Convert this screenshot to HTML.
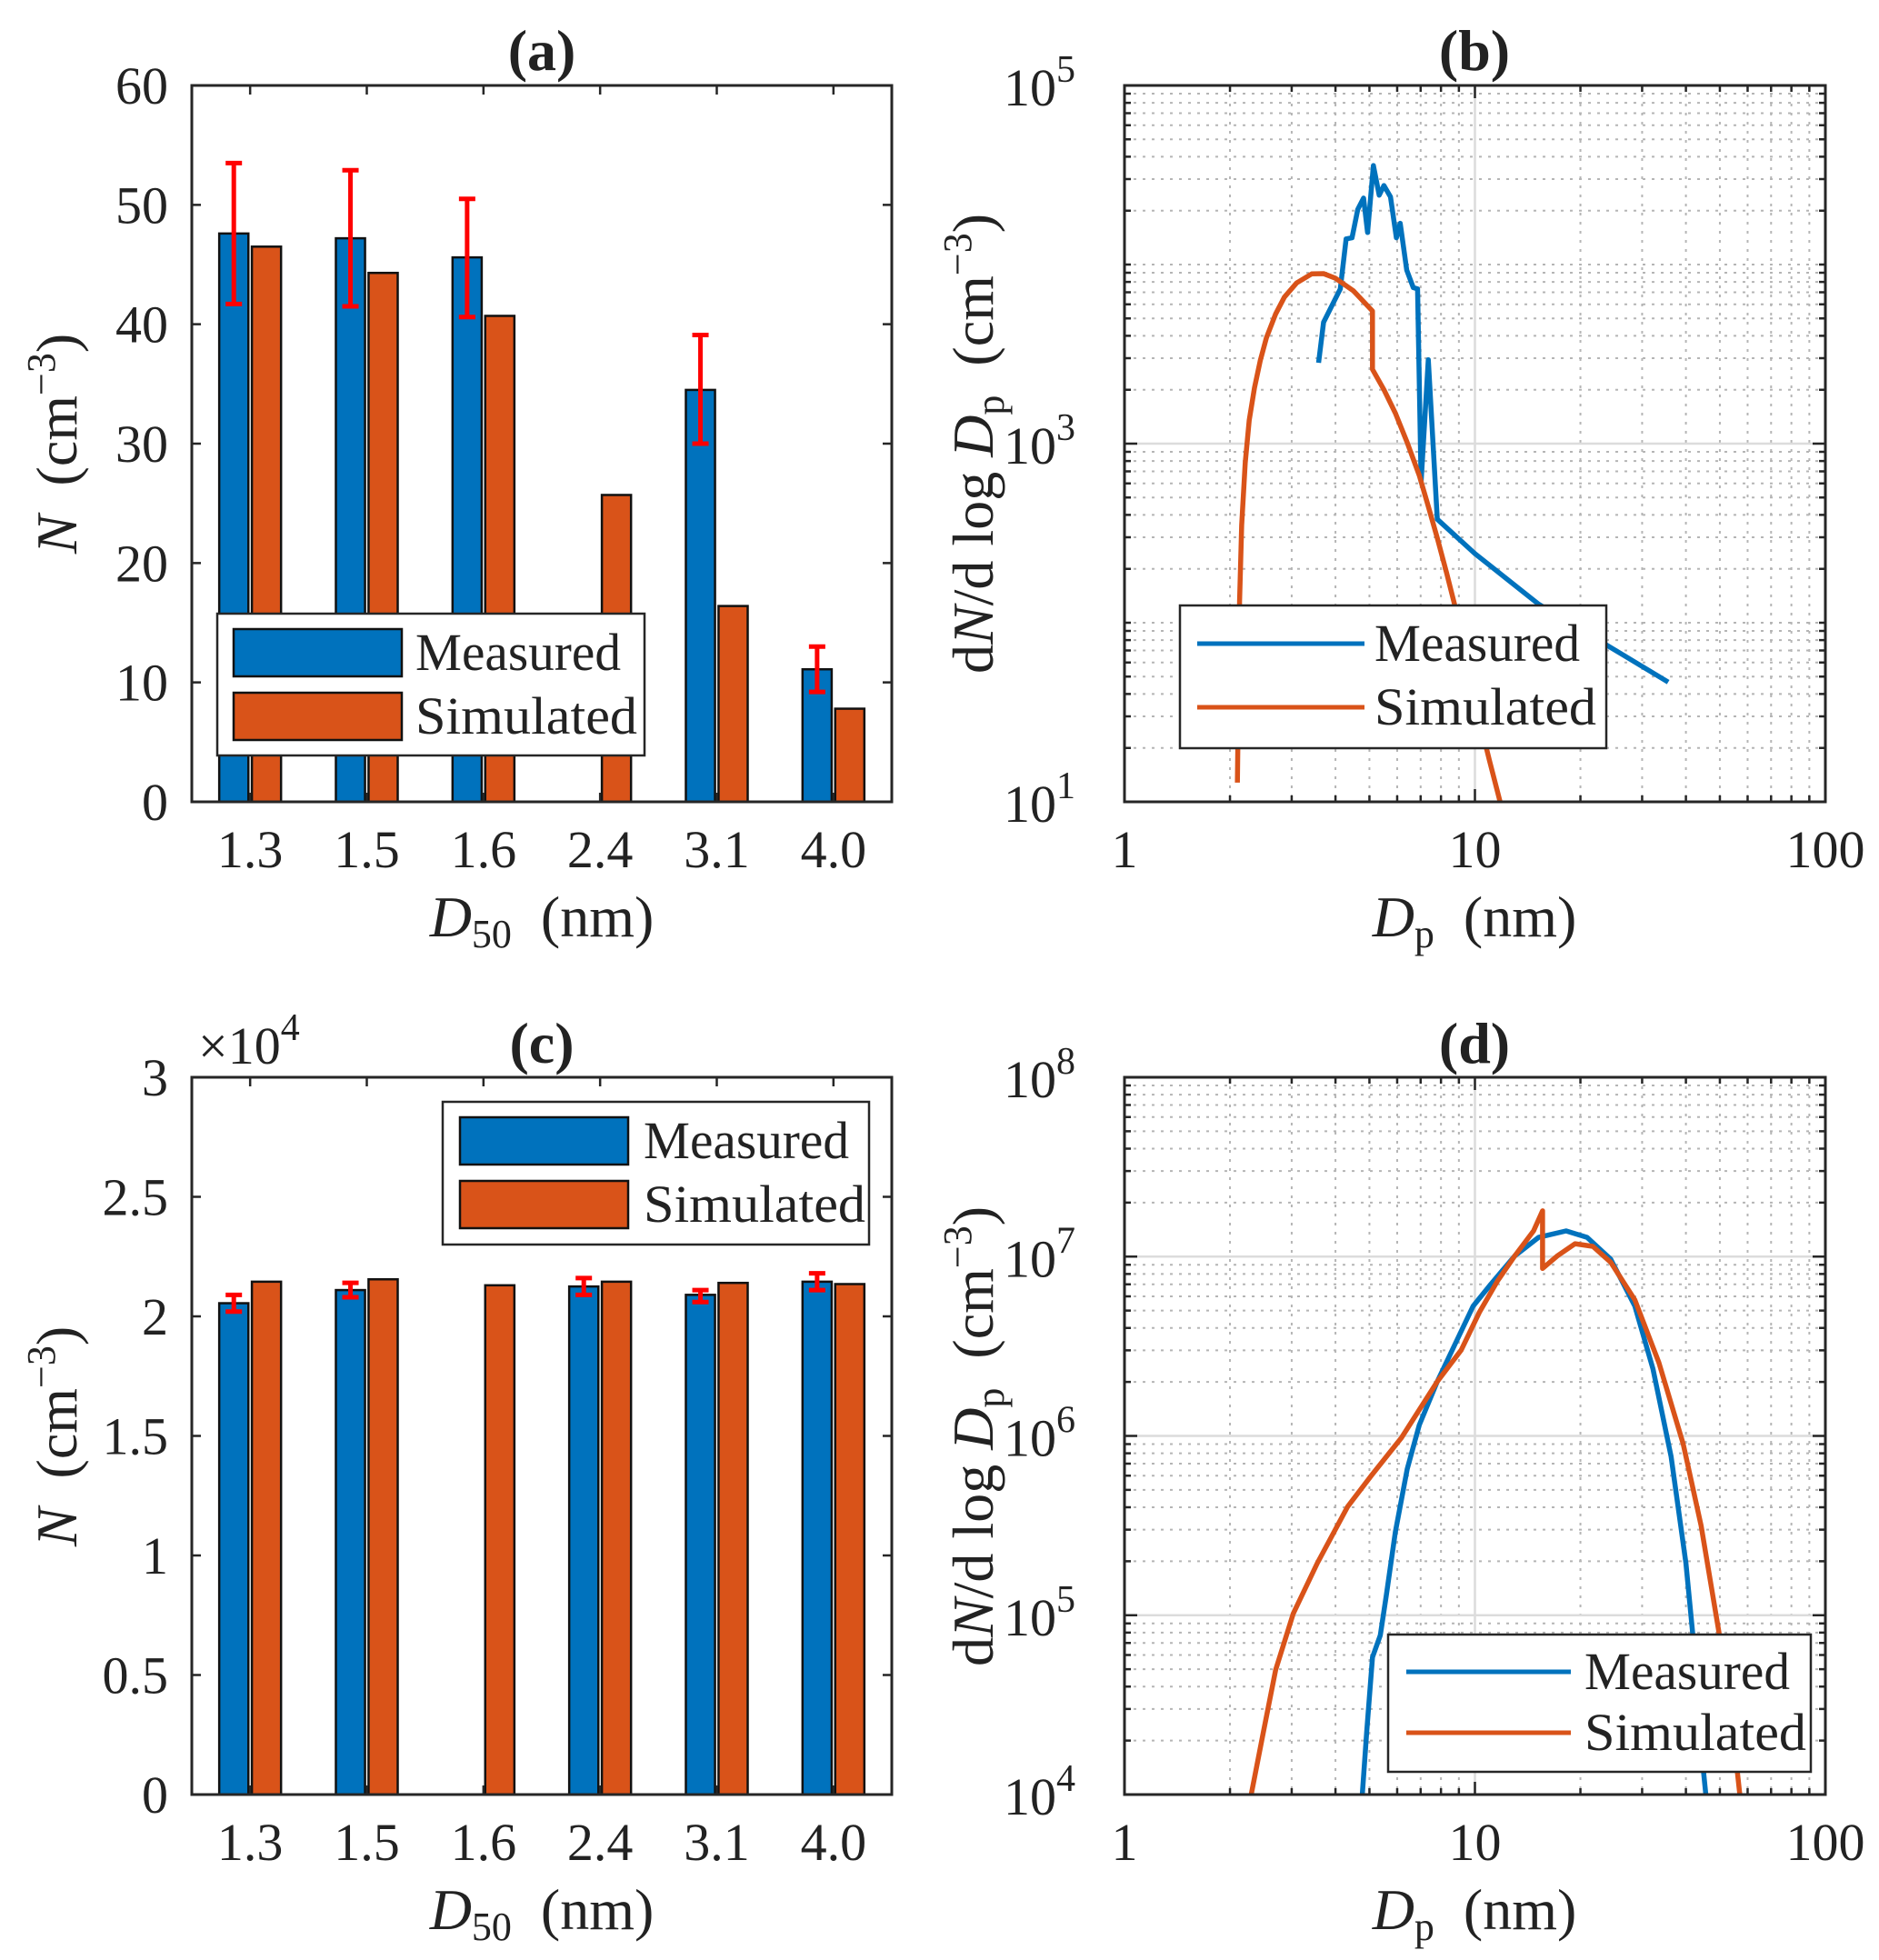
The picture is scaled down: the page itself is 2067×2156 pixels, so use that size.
<!DOCTYPE html>
<html><head><meta charset="utf-8"><style>
html,body{margin:0;padding:0;background:#fff}
svg{display:block}
text{font-family:"Liberation Serif",serif;fill:#222}
</style></head><body>
<svg id="fig" width="2067" height="2156" viewBox="0 0 2067 2156" xmlns="http://www.w3.org/2000/svg">
<defs>
<clipPath id="clipB"><rect x="1237" y="94" width="771" height="788"/></clipPath>
<clipPath id="clipD"><rect x="1237" y="1185" width="771" height="789"/></clipPath>
</defs>
</svg>
<script>
// ---------- data ----------
const categories = ["1.3","1.5","1.6","2.4","3.1","4.0"];
const aMeasured = [47.6, 47.2, 45.6, 0, 34.5, 11.1];
const aSimulated = [46.5, 44.3, 40.7, 25.7, 16.4, 7.8];
const aErrLow = [41.7, 41.5, 40.6, null, 30.0, 9.2];
const aErrHigh = [53.5, 52.9, 50.5, null, 39.1, 13.0];
const aYTicks = [0,10,20,30,40,50,60];
const cMeasured = [2.055, 2.11, 0, 2.125, 2.09, 2.145];
const cSimulated = [2.145, 2.155, 2.13, 2.145, 2.14, 2.135];
const cErrLow = [2.02, 2.08, null, 2.09, 2.06, 2.11];
const cErrHigh = [2.09, 2.14, null, 2.16, 2.11, 2.18];
const cYTicks = ["0","0.5","1","1.5","2","2.5","3"];
const cYTickVals = [0,0.5,1,1.5,2,2.5,3];
const bMeasDp = [3.58,3.70,4.13,4.29,4.46,4.63,4.81,4.94,5.13,5.33,5.50,5.74,5.97,6.12,6.39,6.67,6.86,7.02,7.36,7.81,10.0,15.2,35.6];
const bMeasN = [2826,4760,7310,13900,14100,20300,23500,15100,35700,24400,27600,23900,14100,17000,9300,7430,7310,612,2940,378,243,127,46.6];
const bSimDp = [2.10,2.12,2.13,2.16,2.21,2.27,2.35,2.44,2.54,2.70,2.86,3.10,3.42,3.70,4.00,4.50,5.10,5.10,5.50,5.93,6.40,6.94,7.35,7.81,8.30,8.79,9.50,10.3,11.0,11.8];
const bSimN = [12.8,60,132,350,780,1350,2050,2900,3900,5300,6580,7900,8870,8900,8380,7130,5500,2600,2000,1480,1020,664,450,297,190,122,60,28.7,17,10];
const dMeasDp = [4.77,4.91,5.10,5.37,5.59,5.93,6.41,6.94,7.81,8.79,9.89,11.1,13.0,15.2,18.2,20.9,24.4,28.6,32.2,36.3,40.0,42.8,44.5,45.6];
const dMeasN = [1e4,2.22e4,5.83e4,7.73e4,1.30e5,2.92e5,6.53e5,1.15e6,2.01e6,3.27e6,5.30e6,7.02e6,1.01e7,1.28e7,1.39e7,1.28e7,9.68e6,5.30e6,2.37e6,7.67e5,1.95e5,4.96e4,1.61e4,1e4];
const dSimDp = [2.30,2.49,2.70,3.03,3.55,4.33,5.07,6.17,7.81,9.14,10.3,11.6,13.0,14.7,15.6,15.6,17.2,19.3,21.7,24.4,28.6,33.5,39.3,44.2,49.7,53.8,57.0];
const dSimN = [1e4,2.22e4,4.96e4,1.02e5,1.95e5,4.03e5,6.03e5,9.77e5,2.01e6,3.01e6,4.89e6,7.31e6,1.01e7,1.39e7,1.80e7,8.59e6,1.01e7,1.18e7,1.14e7,9.31e6,5.74e6,2.56e6,9.02e5,3.16e5,8.05e4,2.82e4,1e4];

const NS="http://www.w3.org/2000/svg";
const svg=document.getElementById("fig");
function el(tag,attrs,parent,txt){const e=document.createElementNS(NS,tag);for(const k in attrs)e.setAttribute(k,attrs[k]);if(txt!==undefined)e.textContent=txt;(parent||svg).appendChild(e);return e;}
const BLUE="#0072BD", ORANGE="#D95319";

function frame(L,T,R,B,name){
  const r=el("rect",{x:L,y:T,width:R-L,height:B-T,fill:"none",stroke:"#262626","stroke-width":3});
  
  
}
function label(x,y,str,size,anchor,name,extra){
  const t=el("text",Object.assign({x:x,y:y,"font-size":size,"text-anchor":anchor||"middle"},extra||{}),svg,str);
  
  
  return t;
}

// ---------- bar panels ----------
function barPanel(o){
  const {L,R,T,B,ymax,meas,sim,lo,hi,tickVals,tickLabels,id}=o;
  const xs=i=>L+(i+1-0.5)*(R-L)/6;
  const unit=(R-L)/6;
  const ys=v=>B-v/ymax*(B-T);
  const g=el("g",{});
  
  
  categories.forEach((c,i)=>{
    if(meas[i]>0){
      const r=el("rect",{x:xs(i)-0.14*unit-0.125*unit,y:ys(meas[i]),width:0.25*unit,height:ys(0)-ys(meas[i]),fill:BLUE,stroke:"#111","stroke-width":2.5},g);
      
      
    }
    const r2=el("rect",{x:xs(i)+0.14*unit-0.125*unit,y:ys(sim[i]),width:0.25*unit,height:ys(0)-ys(sim[i]),fill:ORANGE,stroke:"#111","stroke-width":2.5},g);
    
    
  });
  categories.forEach((c,i)=>{
    if(lo[i]!==null){
      const cx=xs(i)-0.14*unit;
      const e=el("path",{d:`M${cx},${ys(lo[i])}V${ys(hi[i])}M${cx-9},${ys(lo[i])}H${cx+9}M${cx-9},${ys(hi[i])}H${cx+9}`,stroke:"#FF0000","stroke-width":5,fill:"none"},g);
      
      
    }
  });
  frame(L,T,R,B,id+'-axes-box');
  let tk="";
  categories.forEach((c,i)=>{tk+=`M${xs(i)},${B}v-10M${xs(i)},${T}v10`;
    label(xs(i),B+72,c,58,"middle",id+'-x-tick-label-'+c);});
  tickVals.forEach((v,i)=>{tk+=`M${L},${ys(v)}h10M${R},${ys(v)}h-10`;
    label(L-26,ys(v)+20,tickLabels[i],58,"end",id+'-y-tick-label-'+tickLabels[i]);});
  const t=el("path",{d:tk,stroke:"#262626","stroke-width":2.5,fill:"none"});
  
  
}
barPanel({L:211,R:981,T:94,B:882,ymax:60,meas:aMeasured,sim:aSimulated,lo:aErrLow,hi:aErrHigh,tickVals:aYTicks,tickLabels:aYTicks.map(String),id:"panel-a"});
barPanel({L:211,R:981,T:1185,B:1974,ymax:3,meas:cMeasured,sim:cSimulated,lo:cErrLow,hi:cErrHigh,tickVals:cYTickVals,tickLabels:cYTicks,id:"panel-c"});

// ---------- log panels ----------
function logPanel(o){
  const {L,R,T,B,yLo,yHi,series,id,clip,labelPows,majorPows}=o;
  const xs=v=>L+Math.log10(v)/2*(R-L);
  const ys=v=>B-(Math.log10(v)-yLo)/(yHi-yLo)*(B-T);
  let minor="",major="",tk="";
  for(let k=0;k<2;k++)for(let m=1;m<10;m++){const v=m*Math.pow(10,k);if(v<=1)continue;const x=xs(v);
    if(m===1){major+=`M${x},${T}V${B}`;tk+=`M${x},${B}v-14M${x},${T}v14`;}
    else{minor+=`M${x},${T}V${B}`;tk+=`M${x},${B}v-7M${x},${T}v7`;}}
  for(let k=yLo;k<yHi;k++)for(let m=1;m<10;m++){const v=m*Math.pow(10,k);if(Math.log10(v)<=yLo)continue;const y=ys(v);
    if(m===1&&majorPows.includes(k)){major+=`M${L},${y}H${R}`;tk+=`M${L},${y}h14M${R},${y}h-14`;}
    else{minor+=`M${L},${y}H${R}`;tk+=`M${L},${y}h7M${R},${y}h-7`;}}
  const g1=el("path",{d:minor,stroke:"#b5b5b5","stroke-width":2,"stroke-dasharray":"3,7",fill:"none"});
  
  
  const g2=el("path",{d:major,stroke:"#dcdcdc","stroke-width":2.5,fill:"none"});
  
  
  series.forEach(s=>{
    const d=s.x.map((v,i)=>(i?"L":"M")+xs(v).toFixed(1)+","+ys(s.y[i]).toFixed(1)).join("");
    const p=el("path",{d:d,stroke:s.color,"stroke-width":5.5,fill:"none","stroke-linejoin":"round","clip-path":`url(#${clip})`});
    
    
  });
  frame(L,T,R,B,id+'-axes-box');
  const t=el("path",{d:tk,stroke:"#262626","stroke-width":2.5,fill:"none"});
  
  
  [1,10,100].forEach(v=>label(xs(v),B+72,String(v),58,"middle",id+'-x-tick-label-'+v));
  labelPows.forEach(k=>{
    const t2=label(L-54,ys(Math.pow(10,k))+22,"10",58,"end",id+'-y-tick-label-1e'+k);
    el("tspan",{dy:-26,"font-size":42},t2,String(k));
  });
}
logPanel({L:1237,R:2008,T:94,B:882,yLo:1,yHi:5,id:"panel-b",clip:"clipB",labelPows:[1,3,5],majorPows:[3],
  series:[{x:bMeasDp,y:bMeasN,color:BLUE,name:"measured"},{x:bSimDp,y:bSimN,color:ORANGE,name:"simulated"}]});
logPanel({L:1237,R:2008,T:1185,B:1974,yLo:4,yHi:8,id:"panel-d",clip:"clipD",labelPows:[4,5,6,7,8],majorPows:[5,6,7],
  series:[{x:dMeasDp,y:dMeasN,color:BLUE,name:"measured"},{x:dSimDp,y:dSimN,color:ORANGE,name:"simulated"}]});

// ---------- legends ----------
function legend(o){
  const g=el("g",{});
  
  
  el("rect",{x:o.x,y:o.y,width:o.w,height:o.h,fill:"#fff",stroke:"#262626","stroke-width":2.5},g);
  ["Measured","Simulated"].forEach((n,i)=>{
    const cy=o.rows[i];
    let m;
    if(o.bar){m=el("rect",{x:o.sx1,y:cy-26,width:o.sx2-o.sx1,height:52,fill:i?ORANGE:BLUE,stroke:"#111","stroke-width":2.5},g);}
    else{m=el("path",{d:`M${o.sx1},${cy}H${o.sx2}`,stroke:i?ORANGE:BLUE,"stroke-width":5},g);}
    
    
    const t=el("text",{x:o.tx,y:cy+19,"font-size":58,textLength:n==="Measured"?226:244,lengthAdjust:"spacingAndGlyphs"},g,n);
    
    
  });
}
legend({id:"panel-a",x:239,y:675,w:470,h:156,bar:true,sx1:257,sx2:442,rows:[718,788],tx:457});
legend({id:"panel-c",x:487,y:1212,w:469,h:157,bar:true,sx1:506,sx2:691,rows:[1255,1325],tx:708});
legend({id:"panel-b",x:1298,y:666,w:469,h:157,bar:false,sx1:1317,sx2:1501,rows:[708,778],tx:1512});
legend({id:"panel-d",x:1527,y:1798,w:465,h:151,bar:false,sx1:1547,sx2:1728,rows:[1839,1906],tx:1743});

// ---------- titles and axis labels ----------
[["(a)",596,77],["(b)",1622,77],["(c)",596,1169],["(d)",1622,1169]].forEach(a=>{
  label(a[1],a[2],a[0],64,"middle","title-"+a[0][1],{"font-weight":"bold"});
});
function xlab(cx,y,sub,id){
  const t=label(cx,y,"",64,"middle",id);
  el("tspan",{"font-style":"italic"},t,"D");
  el("tspan",{"font-size":44,dy:12},t,sub);
  el("tspan",{dy:-12},t,"\u2002(nm)");
}
xlab(596,1030,"50","panel-a-x-axis-title");
xlab(596,2122,"50","panel-c-x-axis-title");
xlab(1622,1030,"p","panel-b-x-axis-title");
xlab(1622,2122,"p","panel-d-x-axis-title");
function ylabN(cx,cy,id){
  const t=label(0,0,"",64,"middle",id,{transform:`translate(${cx},${cy}) rotate(-90)`});
  el("tspan",{"font-style":"italic"},t,"N");
  el("tspan",{},t,"\u2002(cm");
  el("tspan",{"font-size":44,dy:-24},t,"\u22123");
  el("tspan",{dy:24},t,")");
}
ylabN(84,488,"panel-a-y-axis-title");
ylabN(84,1580,"panel-c-y-axis-title");
function ylabD(cx,cy,id){
  const t=label(0,0,"",64,"middle",id,{transform:`translate(${cx},${cy}) rotate(-90)`});
  el("tspan",{},t,"d");
  el("tspan",{"font-style":"italic"},t,"N");
  el("tspan",{},t,"/d log ");
  el("tspan",{"font-style":"italic"},t,"D");
  el("tspan",{"font-size":44,dy:12},t,"p");
  el("tspan",{dy:-12},t,"\u2002(cm");
  el("tspan",{"font-size":44,dy:-24},t,"\u22123");
  el("tspan",{dy:24},t,")");
}
ylabD(1092,488,"panel-b-y-axis-title");
ylabD(1092,1580,"panel-d-y-axis-title");
const mult=label(218,1170,"\u00d710",58,"start","panel-c-y-multiplier");
el("tspan",{"font-size":42,dy:-26},mult,"4");
</script>
</body></html>
